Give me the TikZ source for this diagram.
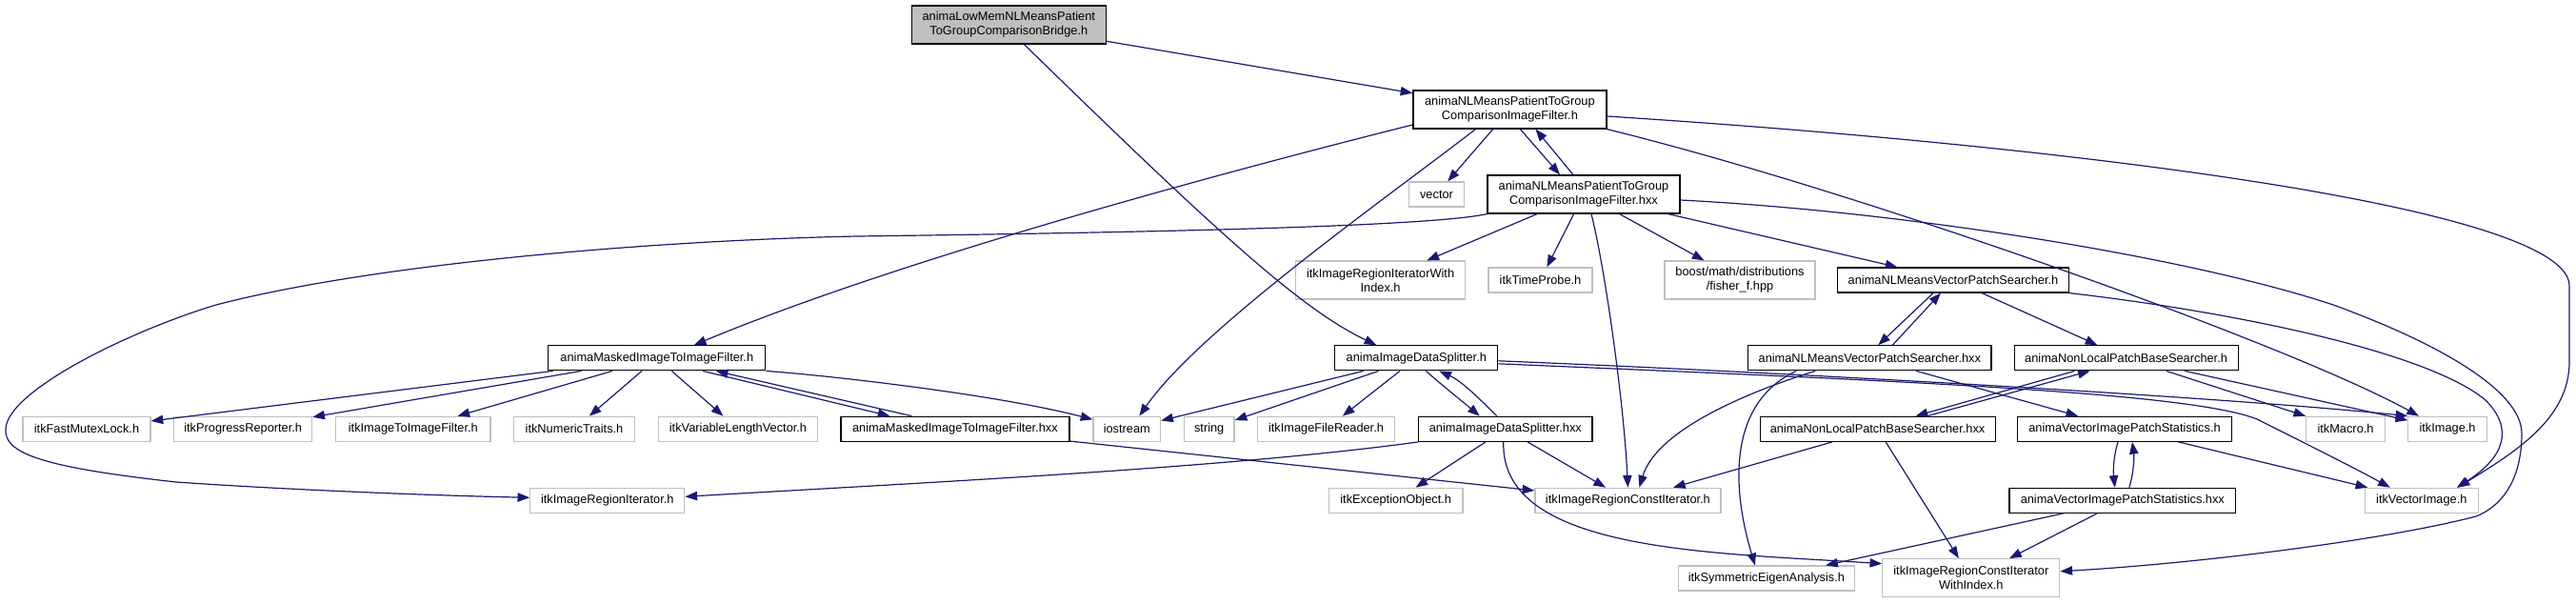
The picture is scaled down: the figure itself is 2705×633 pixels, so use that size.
\documentclass[tikz,border=0pt]{standalone}
\usepackage{fontspec}
\setmainfont{Liberation Sans}
\usetikzlibrary{arrows.meta,calc}
\definecolor{edgec}{HTML}{191970}
\definecolor{greyc}{HTML}{BFBFBF}
\begin{document}
\begin{tikzpicture}[x=0.75pt,y=-0.75pt,
 box/.style={inner sep=0pt, font=\fontsize{9.6pt}{11.3pt}\selectfont, align=center, fill=white, line width=0.9pt},
 doc/.style={box, draw=black},
 ext/.style={box, draw=greyc},
 rootnode/.style={box, draw=black, fill=greyc},
 one/.style={minimum height=19.5pt},
 two/.style={minimum height=30pt},
 w/.style={minimum width=#1*0.75pt},
 edge/.style={draw=edgec, line width=0.9pt, -{Triangle[length=9.5pt,width=7pt]}},
]
\useasboundingbox (0,0) rectangle (2705,633);

% nodes
\node[rootnode,two,w=204] (root) at (1059.3,25.9) {animaLowMemNLMeansPatient\\ToGroupComparisonBridge.h};
\node[doc,two,w=203] (nlmh) at (1585.4,115) {animaNLMeansPatientToGroup\\ComparisonImageFilter.h};
\node[ext,one,w=57.4] (vector) at (1508.5,204) {vector};
\node[doc,two,w=202] (nlmhxx) at (1663,204) {animaNLMeansPatientToGroup\\ComparisonImageFilter.hxx};
\node[ext,two,w=178.5] (riwi) at (1449.6,294) {itkImageRegionIteratorWith\\Index.h};
\node[ext,one,w=109] (timeprobe) at (1617.5,294) {itkTimeProbe.h};
\node[ext,two,w=158] (boost) at (1827,294) {boost/math/distributions\\/fisher\_f.hpp};
\node[doc,one,w=243] (nlmvpsh) at (2051,294) {animaNLMeansVectorPatchSearcher.h};
\node[doc,one,w=228] (masked) at (689.8,375.8) {animaMaskedImageToImageFilter.h};
\node[doc,one,w=171] (dsh) at (1487.3,375.8) {animaImageDataSplitter.h};
\node[doc,one,w=255.4] (nlmvpshxx) at (1963.3,375.8) {animaNLMeansVectorPatchSearcher.hxx};
\node[doc,one,w=235] (nlpbsh) at (2232.6,375.8) {animaNonLocalPatchBaseSearcher.h};

\node[ext,one,w=134] (fml) at (91,450.3) {itkFastMutexLock.h};
\node[ext,one,w=145] (progrep) at (255.2,450.3) {itkProgressReporter.h};
\node[ext,one,w=162.5] (i2if) at (433.8,450.3) {itkImageToImageFilter.h};
\node[ext,one,w=127] (numtraits) at (603,450.3) {itkNumericTraits.h};
\node[ext,one,w=167.6] (vlv) at (775,450.3) {itkVariableLengthVector.h};
\node[doc,one,w=240] (maskedhxx) at (1002.9,450.3) {animaMaskedImageToImageFilter.hxx};
\node[ext,one,w=70.6] (iostream) at (1183.3,450.3) {iostream};
\node[ext,one,w=52.7] (string) at (1269.7,450.3) {string};
\node[ext,one,w=143.5] (ifr) at (1392.5,450.3) {itkImageFileReader.h};
\node[doc,one,w=182.4] (dshxx) at (1580.8,450.3) {animaImageDataSplitter.hxx};
\node[doc,one,w=247] (nlpbshxx) at (1971.6,450.3) {animaNonLocalPatchBaseSearcher.hxx};
\node[doc,one,w=225] (vipsh) at (2231,450.3) {animaVectorImagePatchStatistics.h};
\node[ext,one,w=82.6] (macro) at (2463,450.3) {itkMacro.h};
\node[ext,one,w=82.3] (image) at (2570,450.3) {itkImage.h};

\node[ext,one,w=162] (itkregionit) at (637.8,525.3) {itkImageRegionIterator.h};
\node[ext,one,w=140.6] (excobj) at (1465.7,525.3) {itkExceptionObject.h};
\node[ext,one,w=195] (rci) at (1709.4,525.3) {itkImageRegionConstIterator.h};
\node[doc,one,w=237.6] (vipshxx) at (2228.8,525.3) {animaVectorImagePatchStatistics.hxx};
\node[ext,one,w=119] (vecimg) at (2542.8,525.3) {itkVectorImage.h};
\node[ext,one,w=185.3] (sea) at (1854.9,607) {itkSymmetricEigenAnalysis.h};
\node[ext,two,w=186] (rciwi) at (2069.8,606.7) {itkImageRegionConstIterator\\WithIndex.h};

% edges from root
\draw[edge] (root) -- (nlmh);
\draw[edge] ($(root.south)+(16,0)$) .. controls (1275,241) and (1365,324) .. ($(dsh.north)+(-42,0)$);

% edges from nlmh
\draw[edge] ($(nlmh.west)+(0,16)$) .. controls (1300,177) and (950,270) .. ($(masked.north)+(39,0)$);
\draw[edge] ($(nlmh.south)+(-36,0)$) .. controls (1460,205) and (1260,345) .. ($(iostream.north)+(13,0)$);
\draw[edge] (nlmh) -- (vector);
\draw[edge] ($(nlmh.south)+(11,0)$) -- ($(nlmhxx.north)+(-25,0)$);
\draw[edge] (nlmh.south east) .. controls (1950,200) and (2400,360) .. ($(image.north)+(-30,0)$);
\draw[edge] ($(nlmh.east)+(0,7)$) .. controls (2200,155) and (2698,220) .. (2698,300) -- (2698,380) .. controls (2698,440) and (2640,475) .. ($(vecimg.north)+(38,0)$);

% edges from nlmhxx
\draw[edge] ($(nlmhxx.north)+(-11,0)$) -- ($(nlmh.south)+(27,0)$);
\draw[edge] (nlmhxx.south west) .. controls (1500,238) and (1200,244) .. (900,248)
  .. controls (700,252) and (400,275) .. (227,320)
  .. controls (137,347) and (8,410) .. (6,450)
  .. controls (4,475) and (40,490) .. (185,506)
  .. controls (300,514) and (450,520) .. ($(itkregionit.west)+(0,-3)$);
\draw[edge] (nlmhxx) -- (riwi);
\draw[edge] (nlmhxx) -- (timeprobe);
\draw[edge] ($(nlmhxx.south)+(8,0)$) .. controls (1685,280) and (1705,420) .. (rci.north);
\draw[edge] (nlmhxx) -- (boost);
\draw[edge] (nlmhxx) -- (nlmvpsh);
\draw[edge] ($(nlmhxx.east)+(0,6)$) .. controls (2000,222) and (2300,270) .. (2450,320)
  .. controls (2560,360) and (2648,410) .. (2648,455)
  .. controls (2648,500) and (2630,530) .. (2600,542)
  .. controls (2500,568) and (2300,592) .. ($(rciwi.east)+(0,-7)$);

% edges from nlmvpsh
\draw[edge] ($(nlmvpsh.south)+(-21,0)$) -- ($(nlmvpshxx.north)+(9,0)$);
\draw[edge] ($(nlmvpshxx.north)+(24,0)$) -- ($(nlmvpsh.south)+(-13,0)$);
\draw[edge] (nlmvpsh) -- (nlpbsh);
\draw[edge] (nlmvpsh.south east) .. controls (2350,328) and (2550,370) .. (2610,420)
  .. controls (2640,450) and (2630,480) .. ($(vecimg.north)+(37,0)$);

% edges from nlmvpshxx
\draw[edge] ($(nlmvpshxx.south)+(-57,0)$) .. controls (1840,410) and (1740,450) .. ($(rci.north)+(12,0)$);
\draw[edge] ($(nlmvpshxx.south)+(-77,0)$) .. controls (1820,420) and (1815,500) .. ($(sea.north)+(-12,0)$);
\draw[edge] (nlmvpshxx) -- (vipsh);

% edges from nlpbsh
\draw[edge] ($(nlpbsh.south)+(-54,0)$) -- ($(nlpbshxx.north)+(40,0)$);
\draw[edge] ($(nlpbshxx.north)+(52,0)$) -- ($(nlpbsh.south)+(-38,0)$);
\draw[edge] (nlpbsh) -- (macro);
\draw[edge] (nlpbsh) -- (image);

% edges from nlpbshxx
\draw[edge] (nlpbshxx) -- (rci);
\draw[edge] (nlpbshxx) -- (rciwi);

% edges from vipsh
\draw[edge] ($(vipsh.south)+(-7,0)$) .. controls (2219,480) and (2219,495) .. ($(vipshxx.north)+(-8,0)$);
\draw[edge] ($(vipshxx.north)+(7,0)$) .. controls (2241,495) and (2241,478) .. ($(vipsh.south)+(8,0)$);
\draw[edge] (vipsh) -- (vecimg);

% edges from vipshxx
\draw[edge] (vipshxx) -- (sea);
\draw[edge] (vipshxx) -- (rciwi);

% edges from dsh
\draw[edge] (dsh) -- (iostream);
\draw[edge] (dsh) -- (string);
\draw[edge] (dsh) -- (ifr);
\draw[edge] ($(dsh.south)+(10,0)$) .. controls (1515,405) and (1540,425) .. ($(dshxx.north)+(-27,0)$);
\draw[edge] ($(dshxx.north)+(-9,0)$) .. controls (1555,420) and (1535,400) .. ($(dsh.south)+(24,0)$);
\draw[edge] ($(dsh.east)+(0,3)$) .. controls (1900,392) and (2350,418) .. (image.north west);
\draw[edge] ($(dsh.east)+(0,6)$) .. controls (2000,400) and (2300,412) .. (2370,440)
  .. controls (2420,465) and (2470,490) .. ($(vecimg.north)+(-33,0)$);

% edges from dshxx
\draw[edge] (dshxx.south west) .. controls (1300,490) and (1000,505) .. ($(itkregionit.east)+(0,-4)$);
\draw[edge] (dshxx) -- (excobj);
\draw[edge] (dshxx) -- (rci);
\draw[edge] ($(dshxx.south)+(-2,0)$) .. controls (1575,580) and (1800,580) .. ($(rciwi.west)+(0,-15)$);

% edges from masked
\draw[edge] (masked) -- (fml);
\draw[edge] (masked) -- (progrep);
\draw[edge] (masked) -- (i2if);
\draw[edge] (masked) -- (numtraits);
\draw[edge] (masked) -- (vlv);
\draw[edge] ($(masked.south)+(48,0)$) -- ($(maskedhxx.north)+(-68.5,0)$);
\draw[edge] ($(maskedhxx.north)+(-45.5,0)$) -- ($(masked.south)+(62,0)$);
\draw[edge] (masked.south east) .. controls (880,395) and (1050,415) .. ($(iostream.west)+(0,-10)$);

% edges from maskedhxx
\draw[edge] (maskedhxx) -- (rci);
\end{tikzpicture}
\end{document}
